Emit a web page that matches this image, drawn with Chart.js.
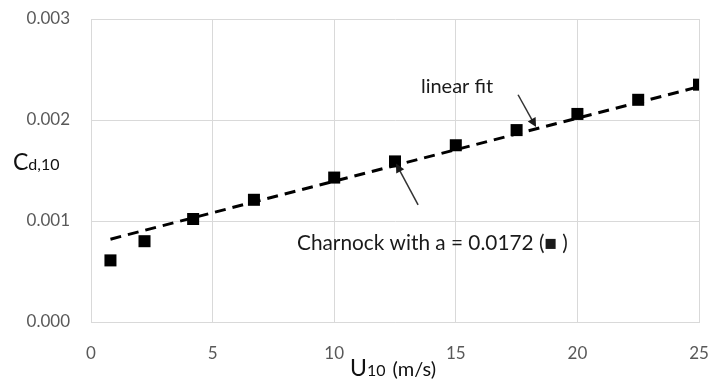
<!DOCTYPE html>
<html lang="en">
<head>
    <meta charset="UTF-8">
    <title>Cd10 vs U10</title>
    <script src="https://cdn.jsdelivr.net/npm/chart.js"></script>
    <style>
        html, body { margin: 0; padding: 0; background: #fff; }
        canvas { display: block; }
    </style>
</head>
<body>
    <canvas id="cdChart" width="710" height="380"></canvas>
    <script>
        // values
        const windSpeed = [0.8, 2.2, 4.2, 6.7, 10, 12.5, 15, 17.5, 20, 22.5, 25];
        const dragCoeff = [0.00061, 0.00080, 0.00102, 0.00121, 0.00143, 0.00159, 0.00175, 0.00190, 0.00206, 0.00220, 0.00235];
        const fitX = [0.8, 25];
        const fitY = [0.00082, 0.00233];
        const xTicks = [0, 5, 10, 15, 20, 25];
        const yTicks = [0, 0.001, 0.002, 0.003];

        const FONT = 'Lato, "Open Sans", sans-serif';

        const points = windSpeed.map((u, i) => ({ x: u, y: dragCoeff[i] }));
        const fitLine = fitX.map((u, i) => ({ x: u, y: fitY[i] }));

        // text labels and arrows, placed in data units
        const notes = [
            { text: 'linear fit', size: 20, x: 15.05, y: 0.00233, align: 'center',
              from: [17.56, 0.00225], to: [18.3, 0.00193] },
            { text: 'Charnock with a = 0.0172 (\u25A0 )', size: 20.8, x: 8.47, y: 0.00078, align: 'left',
              from: [13.45, 0.00116], to: [12.54, 0.00157] }
        ];

        function drawArrow(ctx, x1, y1, x2, y2) {
            const ang = Math.atan2(y2 - y1, x2 - x1);
            const len = 9, wid = 4.5;
            ctx.beginPath();
            ctx.moveTo(x1, y1);
            ctx.lineTo(x2 - Math.cos(ang) * len * 0.8, y2 - Math.sin(ang) * len * 0.8);
            ctx.stroke();
            ctx.beginPath();
            ctx.moveTo(x2, y2);
            ctx.lineTo(x2 - Math.cos(ang) * len - Math.sin(ang) * wid, y2 - Math.sin(ang) * len + Math.cos(ang) * wid);
            ctx.lineTo(x2 - Math.cos(ang) * len + Math.sin(ang) * wid, y2 - Math.sin(ang) * len - Math.cos(ang) * wid);
            ctx.closePath();
            ctx.fill();
        }

        const extras = {
            id: 'extras',
            afterDatasetsDraw(chart) {
                const ctx = chart.ctx;
                const xs = chart.scales.x, ys = chart.scales.y;
                ctx.save();
                ctx.fillStyle = '#1a1a1a';
                ctx.strokeStyle = '#333';
                ctx.lineWidth = 1.5;
                notes.forEach(n => {
                    ctx.font = n.size + 'px ' + FONT;
                    ctx.textAlign = n.align;
                    ctx.textBaseline = 'middle';
                    ctx.fillText(n.text, xs.getPixelForValue(n.x), ys.getPixelForValue(n.y));
                    drawArrow(ctx,
                        xs.getPixelForValue(n.from[0]), ys.getPixelForValue(n.from[1]),
                        xs.getPixelForValue(n.to[0]), ys.getPixelForValue(n.to[1]));
                });

                // axis titles with subscripts
                ctx.textAlign = 'left';
                ctx.textBaseline = 'alphabetic';
                ctx.fillStyle = '#111';
                ctx.font = '23px ' + FONT;
                ctx.fillText('C', 13, 170);
                let w = ctx.measureText('C').width;
                ctx.font = '16px ' + FONT;
                ctx.fillText('d,10', 13 + w, 170);

                const bx = 350, by = 376;
                ctx.font = '23px ' + FONT;
                ctx.fillText('U', bx, by);
                w = ctx.measureText('U').width;
                ctx.font = '16px ' + FONT;
                ctx.fillText('10', bx + w, by);
                const w2 = ctx.measureText('10 ').width + 3;
                ctx.font = '20px ' + FONT;
                ctx.fillText('(m/s)', bx + w + w2, by);
                ctx.restore();
            }
        };

        new Chart(document.getElementById('cdChart'), {
            type: 'scatter',
            data: {
                datasets: [
                    {
                        label: 'linear fit',
                        data: fitLine,
                        showLine: true,
                        borderColor: '#000',
                        borderWidth: 3,
                        borderDash: [11, 7],
                        pointRadius: 0,
                        order: 2
                    },
                    {
                        label: 'Charnock',
                        data: points,
                        pointStyle: 'rect',
                        pointRadius: 8.5,
                        pointHoverRadius: 8.5,
                        backgroundColor: '#000',
                        borderColor: '#000',
                        borderWidth: 0,
                        order: 1
                    }
                ]
            },
            options: {
                responsive: false,
                animation: false,
                layout: { padding: { top: 19, right: 11, left: 0, bottom: 0 } },
                plugins: {
                    legend: { display: false },
                    tooltip: { enabled: false }
                },
                scales: {
                    x: {
                        type: 'linear',
                        min: 0,
                        max: 25,
                        afterBuildTicks: s => { s.ticks = xTicks.map(v => ({ value: v })); },
                        afterFit: s => {
                            s.height = 58;
                            s.paddingLeft = 0; s.paddingRight = 0;
                        },
                        grid: { color: '#d9d9d9', drawTicks: false },
                        border: { color: '#d9d9d9' },
                        ticks: {
                            padding: 21,
                            color: '#595959',
                            font: { family: FONT, size: 17 },
                            maxRotation: 0
                        }
                    },
                    y: {
                        type: 'linear',
                        min: 0,
                        max: 0.003,
                        afterBuildTicks: s => { s.ticks = yTicks.map(v => ({ value: v })); },
                        afterFit: s => {
                            s.width = 91;
                            s.paddingTop = 0; s.paddingBottom = 0;
                        },
                        grid: { color: '#d9d9d9', drawTicks: false },
                        border: { color: '#d9d9d9' },
                        ticks: {
                            padding: 21,
                            color: '#595959',
                            font: { family: FONT, size: 17 },
                            callback: v => v.toFixed(3)
                        }
                    }
                }
            },
            plugins: [extras]
        });
    </script>
</body>
</html>
